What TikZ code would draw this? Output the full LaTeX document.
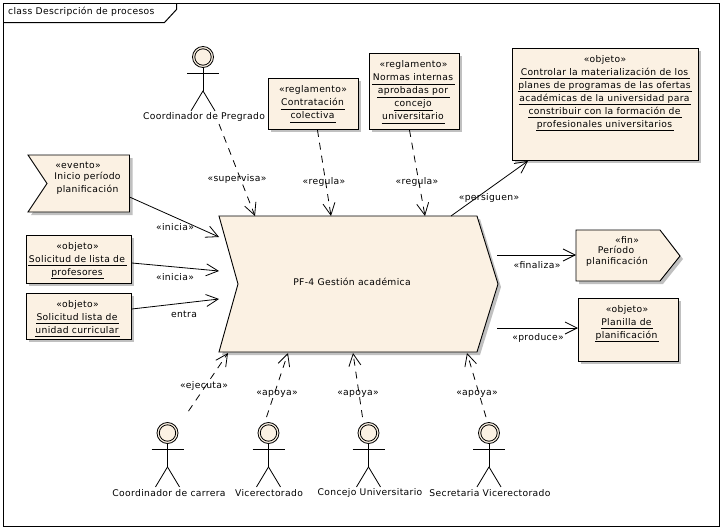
\documentclass[tikz,border=0pt]{standalone}
\usepackage{fontspec}
\setmainfont[LetterSpace=3.6]{DejaVu Sans}
\usetikzlibrary{arrows.meta}
\definecolor{umlfill}{HTML}{FBF1E3}
\definecolor{umlshadow}{HTML}{C0C0C0}
\newsavebox\ulbox
\newcommand\ulx[1]{\savebox\ulbox{\kern0.5pt#1\kern1.5pt}\leavevmode\smash{\rlap{\rule[-3.6pt]{\wd\ulbox}{0.8pt}}}\usebox\ulbox}
\tikzset{
  umlshade/.style={preaction={draw=none,fill=umlshadow,transform canvas={xshift=3pt,yshift=-3pt}}},
  umlbox/.style={draw=black,line width=0.9pt,fill=umlfill,umlshade,anchor=north west,inner sep=0pt},
  umlpoly/.style={draw=black,line width=0.9pt,fill=umlfill,umlshade,line join=miter},
  frameline/.style={draw=black,line width=1pt},
  txt/.style={font=\fontsize{9.2}{13}\selectfont,align=center,inner sep=0pt,yshift=-1pt},
  conn/.style={line width=0.8pt,-{Straight Barb[length=12pt,width=12pt,line width=0.8pt]}},
  dep/.style={conn,dash pattern=on 7pt off 6pt},
  rel/.style={txt},
  bboxnode/.style={anchor=north west,inner sep=0pt,outer sep=0pt},
  limb/.style={line width=0.8pt}
}
\newcommand\actor[4]{%
  \node[circle,draw=black,line width=0.8pt,fill=umlfill,minimum size=21pt,inner sep=0pt] (#1) at (#2,#3) {};
  \draw[line width=0.8pt] (#1.center) circle[radius=8.2pt];
  \draw[limb] (#1.south) -- ++(0,23) coordinate (#1hip);
  \draw[limb] ([shift={(-16,5.5)}]#1.south) -- ++(32,0);
  \draw[limb] (#1hip) -- ++(-12,20);
  \draw[limb] (#1hip) -- ++(12,20);
}
\begin{document}
\begin{tikzpicture}[x=1pt,y=-1pt]
\useasboundingbox (0,0) rectangle (724,530);
\fill[white] (0,0) rectangle (724,530);
% frame
\node[frameline,bboxnode,minimum width=716pt,minimum height=523pt] (frame) at (3.5,3.5) {};
\draw[frameline] ([shift={(173,0)}]frame.north west) -- ++(0,6) -- ++(-12,13) -- ([shift={(0,19)}]frame.north west);
\node[txt,anchor=west] (title) at (8,10.5) {class Descripción de procesos};

% main process
\draw[umlpoly] (219,216) -- (477,216) -- (498,284) -- (477,352) -- (219,352) -- (238,284) -- cycle;
\node[bboxnode,minimum width=279pt,minimum height=136pt] (main) at (219,216) {};
\node[txt] (mainlbl) at (352,281) {PF-4 Gestión académica};

% rect elements
\node[umlbox,minimum width=90pt,minimum height=51pt] (contrat) at (268,78) {};
\node[txt] (contratT) at (313,101.5) {«reglamento»\\\ulx{Contratación}\\\ulx{colectiva}};
\node[umlbox,minimum width=90pt,minimum height=76pt] (normas) at (369,53) {};
\node[txt] (normasT) at (413.5,89.5) {«reglamento»\\\ulx{Normas internas}\\\ulx{aprobadas por}\\\ulx{concejo}\\\ulx{universitario}};
\node[umlbox,minimum width=186pt,minimum height=112pt] (meta) at (512,48) {};
\node[txt] (metaT) at (605,91) {«objeto»\\\ulx{Controlar la materialización de los}\\\ulx{planes de programas de las ofertas}\\\ulx{académicas de la universidad para}\\\ulx{constribuir con la formación de}\\\ulx{profesionales universitarios}};
\node[umlbox,minimum width=105pt,minimum height=48pt] (solprof) at (26,235) {};
\node[txt] (solprofT) at (77.5,259) {«objeto»\\\ulx{Solicitud de lista de}\\\ulx{profesores}};
\node[umlbox,minimum width=105pt,minimum height=46pt] (soluni) at (26,293) {};
\node[txt] (soluniT) at (77.5,316) {«objeto»\\\ulx{Solicitud lista de}\\\ulx{unidad curricular}};
\node[umlbox,minimum width=100pt,minimum height=63pt] (planilla) at (578,298) {};
\node[txt] (planillaT) at (627,322) {«objeto»\\\ulx{Planilla de}\\\ulx{planificación}};

% event
\draw[umlpoly] (28,155) -- (129.5,155) -- (129.5,212) -- (28,212) -- (47,183.5) -- cycle;
\node[bboxnode,minimum width=101.5pt,minimum height=57pt] (evento) at (28,155) {};
\node[txt] (eventoA) at (78,164) {«evento»};
\node[txt] (eventoB) at (87.5,182) {Inicio período\\planificación};

% fin
\draw[umlpoly] (576,230) -- (660,230) -- (680,256) -- (660,281) -- (576,281) -- cycle;
\node[bboxnode,minimum width=104pt,minimum height=51pt] (fin) at (576,230) {};
\node[txt] (finA) at (627,239) {«fin»};
\node[txt] (finB) at (616,248.5) {Período};
\node[txt] (finC) at (617,261) {planificación};

% actors
\actor{aPre}{203}{57}{}
\node[txt] (aPreL) at (204,116) {Coordinador de Pregrado};
\actor{aCar}{167.5}{433}{}
\node[txt] (aCarL) at (169,492) {Coordinador de carrera};
\actor{aVic}{268.5}{433}{}
\node[txt] (aVicL) at (269,492) {Vicerectorado};
\actor{aCon}{368.5}{433}{}
\node[txt] (aConL) at (370,492) {Concejo Universitario};
\actor{aSec}{489}{433}{}
\node[txt] (aSecL) at (490,492) {Secretaria Vicerectorado};

% connectors
\draw[dep] ([shift={(15,7)}]aPreL.center) -- ([shift={(36,0)}]main.north west);
\draw[dep] ([shift={(4,0)}]contrat.south) -- ([shift={(112,0)}]main.north west);
\draw[dep] ([shift={(-5,0)}]normas.south) -- ([shift={(206,0)}]main.north west);
\draw[conn] ([shift={(232,0)}]main.north west) -- ([shift={(16,0)}]meta.south west);
\draw[conn] ([shift={(0,42)}]evento.north east) -- ([shift={(0,21)}]main.north west);
\draw[conn] ([shift={(0,28)}]solprof.north east) -- ([shift={(0,55)}]main.north west);
\draw[conn] ([shift={(0,16)}]soluni.north east) -- ([shift={(0,83)}]main.north west);
\draw[conn] ([shift={(-1,-29)}]main.east) -- ([shift={(0,25)}]fin.north west);
\draw[conn] ([shift={(-1,44)}]main.east) -- ([shift={(0,30)}]planilla.north west);
\draw[dep] ([shift={(21,-11)}]aCar.north) -- ([shift={(9,1)}]main.south west);
\draw[dep] ([shift={(-2,-5)}]aVic.north) -- ([shift={(69,1)}]main.south west);
\draw[dep] ([shift={(-6,-5)}]aCon.north) -- ([shift={(134,1)}]main.south west);
\draw[dep] ([shift={(-3,-5)}]aSec.north) -- ([shift={(248,1)}]main.south west);

% connector labels
\node[rel] (l1) at (237,178) {«supervisa»};
\node[rel] (l2) at (324,181) {«regula»};
\node[rel] (l3) at (417,181) {«regula»};
\node[rel] (l4) at (489,197) {«persiguen»};
\node[rel] (l5) at (175,226) {«inicia»};
\node[rel] (l6) at (175,276) {«inicia»};
\node[rel] (l7) at (184,313) {entra};
\node[rel] (l8) at (537,264) {«finaliza»};
\node[rel] (l9) at (538,337) {«produce»};
\node[rel] (l10) at (204,385) {«ejecuta»};
\node[rel] (l11) at (277,393) {«apoya»};
\node[rel] (l12) at (358,393) {«apoya»};
\node[rel] (l13) at (477,393) {«apoya»};
\end{tikzpicture}
\end{document}
